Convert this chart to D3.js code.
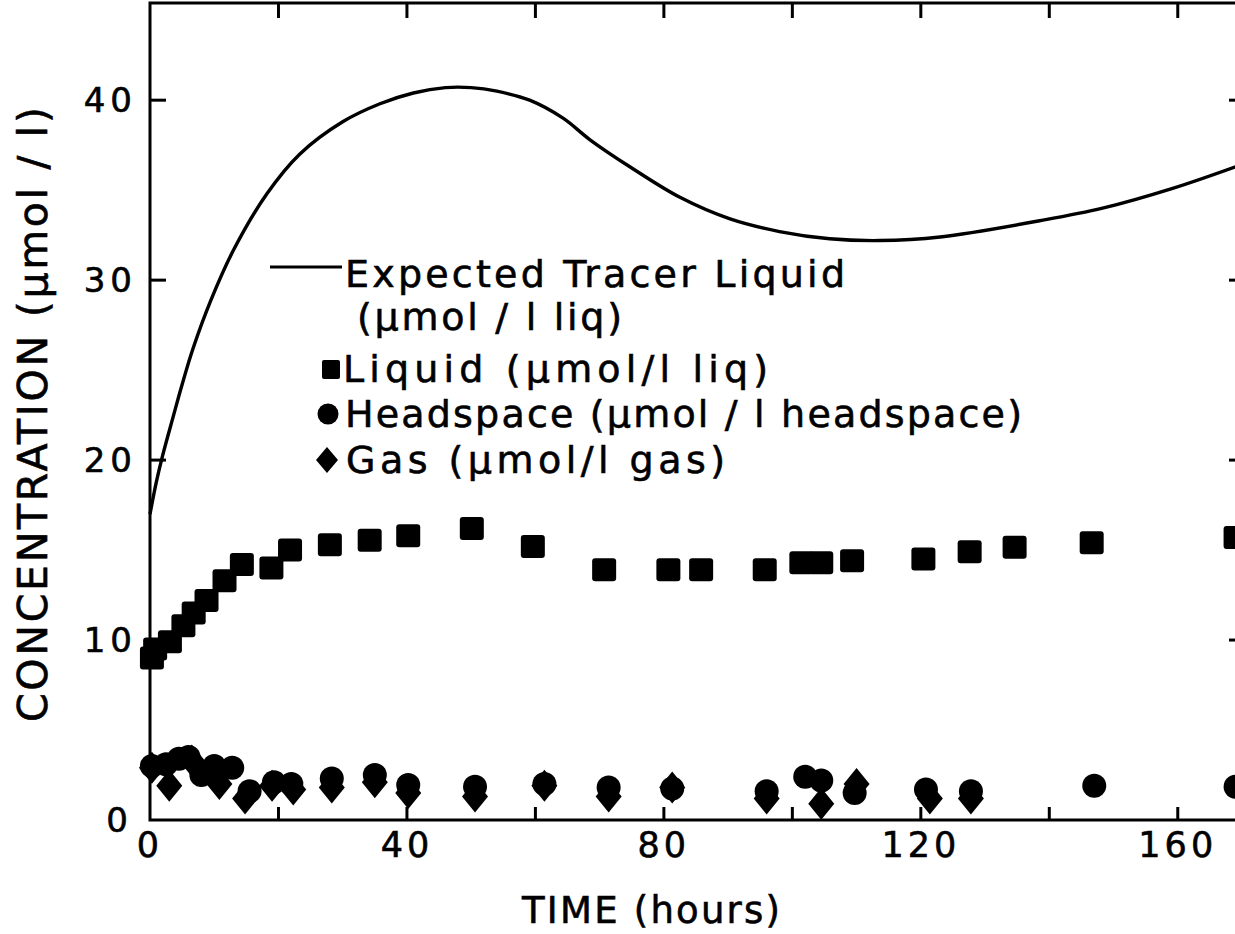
<!DOCTYPE html>
<html>
<head>
<meta charset="utf-8">
<script src="https://cdn.jsdelivr.net/npm/d3@7"></script>
<style>
    html, body { margin: 0; padding: 0; background: #fff; }
    svg { display: block; font-family: 'DejaVu Sans', sans-serif; }
    text { fill: #000; stroke: #000; stroke-width: 0.6; }
</style>
</head>
<body>
<svg id="tracer" width="1235" height="934"></svg>
<script>

// expected tracer liquid (model curve), [hours, umol/l]
var expectedCurve = [
    [0, 17.0], [1, 18.8], [2, 20.3], [3.6, 22.4], [5, 24.2], [6.7, 26.2], [9.5, 28.9],
    [12.9, 31.6], [18.2, 34.8], [23.3, 37.0], [30, 38.8], [35.8, 39.8], [41, 40.4],
    [46, 40.7], [50, 40.7], [54, 40.5], [59.1, 40.0], [64.3, 39.0], [68.5, 37.8],
    [74.7, 36.3], [82.5, 34.6], [90.3, 33.4], [98, 32.7], [105.8, 32.3], [113.6, 32.2],
    [123, 32.4], [138.5, 33.3], [148.3, 34.0], [159.2, 35.1], [169, 36.3]
];

var liquid = [
    [0.3, 9.0], [0.8, 9.5], [3.1, 9.9], [5.2, 10.8], [6.8, 11.5], [8.8, 12.2],
    [11.6, 13.3], [14.3, 14.2], [18.9, 14.0], [21.8, 15.0], [28, 15.3], [34.2, 15.55],
    [40.2, 15.8], [50.1, 16.2], [59.6, 15.2], [70.7, 13.9], [80.7, 13.9], [85.8, 13.9],
    [95.7, 13.9], [101.4, 14.3], [104.5, 14.3], [109.3, 14.4], [120.4, 14.5],
    [127.6, 14.9], [134.6, 15.15], [146.6, 15.4], [169, 15.7]
];

var headspace = [
    [0.3, 3.0], [2.5, 3.1], [4.5, 3.4], [6, 3.5], [8, 2.5], [10, 3.0], [12.8, 2.9],
    [15.5, 1.6], [19.3, 2.1], [22, 2.0], [28.3, 2.3], [35, 2.5], [40.2, 1.95],
    [50.6, 1.85], [61.4, 2.0], [71.4, 1.8], [81.3, 1.75], [96, 1.6], [102, 2.4],
    [104.5, 2.2], [109.7, 1.5], [120.8, 1.7], [127.8, 1.6], [147, 1.9], [169, 1.85]
];

var gas = [
    [0.3, 2.9], [3, 1.9], [6.5, 3.3], [10.8, 2.0], [14.8, 1.2], [19, 1.9], [22.3, 1.7],
    [28.3, 1.8], [35, 2.1], [40.2, 1.5], [50.6, 1.3], [61.4, 1.9], [71.4, 1.3],
    [81.3, 1.8], [96, 1.2], [104.5, 0.9], [110, 2.0], [121.4, 1.2], [127.8, 1.2]
];

var xTicks = [0, 40, 80, 120, 160];
var xMinorTicks = [20, 40, 60, 80, 100, 120, 140, 160];
var yTicks = [0, 10, 20, 30, 40];

var legendLines = [
    { mark: 'line', text: 'Expected  Tracer  Liquid' },
    { mark: null, text: '(\u03bcmol / l  liq)' },
    { mark: 'square', text: 'Liquid (\u03bcmol/l  liq)' },
    { mark: 'circle', text: 'Headspace (\u03bcmol / l headspace)' },
    { mark: 'diamond', text: 'Gas (\u03bcmol/l gas)' }
];

var svg = d3.select('#tracer');
// plot box edges (note: "top" is reserved on window, so use other names)
var plotLeft = 150, plotRight = 1242, plotTop = 3, plotBottom = 820;

var x = d3.scaleLinear().domain([0, 170]).range([plotLeft, plotRight]);
var y = d3.scaleLinear().domain([0, 45.4]).range([plotBottom, plotTop]);

svg.append('rect').attr('width', 1235).attr('height', 934).attr('fill', '#fff').attr('stroke', 'none');

// frame
var frame = svg.append('g').attr('stroke', '#000').attr('stroke-width', 3).attr('fill', 'none');
frame.append('rect')
    .attr('x', plotLeft).attr('y', plotTop)
    .attr('width', plotRight - plotLeft).attr('height', plotBottom - plotTop);

// ticks on all four sides, pointing inward
frame.selectAll('.tb').data(xMinorTicks).enter().append('line')
    .attr('x1', function(d) { return x(d); }).attr('x2', function(d) { return x(d); })
    .attr('y1', plotBottom).attr('y2', plotBottom - 13);
frame.selectAll('.tt').data(xMinorTicks).enter().append('line')
    .attr('x1', function(d) { return x(d); }).attr('x2', function(d) { return x(d); })
    .attr('y1', plotTop).attr('y2', plotTop + 15);
frame.selectAll('.tl').data(yTicks.slice(1)).enter().append('line')
    .attr('x1', plotLeft).attr('x2', plotLeft + 16)
    .attr('y1', function(d) { return y(d); }).attr('y2', function(d) { return y(d); });
frame.selectAll('.tr').data(yTicks.slice(1)).enter().append('line')
    .attr('x1', plotRight).attr('x2', plotRight - 13)
    .attr('y1', function(d) { return y(d); }).attr('y2', function(d) { return y(d); });

// tick labels
svg.selectAll('.xl').data(xTicks).enter().append('text')
    .attr('x', function(d) { return x(d); })
    .attr('y', 857)
    .attr('text-anchor', 'middle')
    .attr('font-size', 35)
    .attr('letter-spacing', 4)
    .text(function(d) { return d; });

svg.selectAll('.yl').data(yTicks).enter().append('text')
    .attr('x', function(d) { return d === 0 ? 133 : 137; })
    .attr('y', function(d) { return y(d) + 12; })
    .attr('text-anchor', 'end')
    .attr('font-size', 34)
    .attr('letter-spacing', 5)
    .text(function(d) { return d; });

// axis titles
svg.append('text')
    .attr('x', 522).attr('y', 923)
    .attr('font-size', 37)
    .attr('textLength', 258)
    .attr('lengthAdjust', 'spacing')
    .text('TIME (hours)');

svg.append('text')
    .attr('transform', 'translate(47,722) rotate(-90)')
    .attr('font-size', 41)
    .attr('textLength', 615)
    .attr('lengthAdjust', 'spacing')
    .text('CONCENTRATION (\u03bcmol / l)');

// expected curve
var line = d3.line()
    .x(function(d) { return x(d[0]); })
    .y(function(d) { return y(d[1]); })
    .curve(d3.curveCatmullRom.alpha(0.5));

svg.append('path')
    .datum(expectedCurve)
    .attr('fill', 'none')
    .attr('stroke', '#000')
    .attr('stroke-width', 3.4)
    .attr('d', line);

// data marks
var marks = svg.append('g').attr('fill', '#000');

marks.selectAll('.sq').data(liquid).enter().append('rect')
    .attr('x', function(d) { return x(d[0]) - 12; })
    .attr('y', function(d) { return y(d[1]) - 11.5; })
    .attr('width', 24).attr('height', 23).attr('rx', 3);

var diamond = 'M0,-16L13,0L0,16L-13,0Z';
marks.selectAll('.di').data(gas).enter().append('path')
    .attr('transform', function(d) { return 'translate(' + x(d[0]) + ',' + y(d[1]) + ')'; })
    .attr('d', diamond);

marks.selectAll('.ci').data(headspace).enter().append('circle')
    .attr('cx', function(d) { return x(d[0]); })
    .attr('cy', function(d) { return y(d[1]); })
    .attr('r', 12);

// legend
var legendBase = [287, 330, 382, 427, 473];
var legendStart = [345, 357, 343, 345, 346];
var legendEnd = [845, 622, 768, 1022, 725];

var lg = svg.append('g');
legendLines.forEach(function(item, i) {
    var by = legendBase[i];
    lg.append('text')
        .attr('x', legendStart[i]).attr('y', by)
        .attr('font-size', 38)
        .attr('textLength', legendEnd[i] - legendStart[i])
        .attr('lengthAdjust', 'spacing')
        .text(item.text);
    if (item.mark === 'line') {
        lg.append('line')
            .attr('x1', 270).attr('x2', 342)
            .attr('y1', by - 20).attr('y2', by - 20)
            .attr('stroke', '#000').attr('stroke-width', 3);
    } else if (item.mark === 'square') {
        lg.append('rect')
            .attr('x', 322).attr('y', by - 22)
            .attr('width', 18).attr('height', 19).attr('rx', 2);
    } else if (item.mark === 'circle') {
        lg.append('circle')
            .attr('cx', 328).attr('cy', by - 13).attr('r', 10.5);
    } else if (item.mark === 'diamond') {
        lg.append('path')
            .attr('transform', 'translate(327,' + (by - 13) + ')')
            .attr('d', 'M0,-13L11,0L0,13L-11,0Z');
    }
});

</script>
</body>
</html>
